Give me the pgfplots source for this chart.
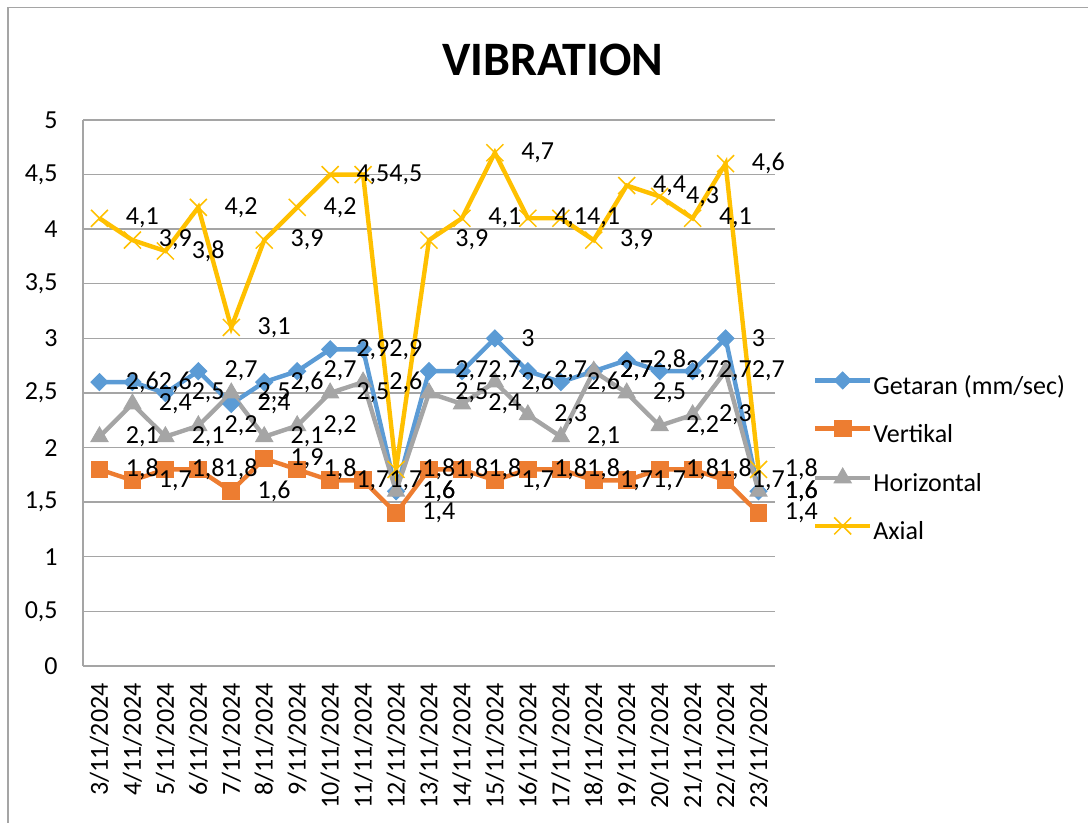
\documentclass[border=0pt]{standalone}
\usepackage{fontspec}
\setmainfont{Carlito}
\usepackage{pgfplots}
\usepackage{pgfplotstable}
\pgfplotsset{compat=1.18}
\definecolor{cBlue}{RGB}{91,155,213}
\definecolor{cOrange}{RGB}{237,125,49}
\definecolor{cGray}{RGB}{165,165,165}
\definecolor{cYellow}{RGB}{255,192,0}
\definecolor{cGrid}{RGB}{165,165,165}
\newcommand{\lbl}{\fontsize{13}{15.6}\selectfont}
\pgfplotstableread{
x g v h a
0 2.6 1.8 2.1 4.1
1 2.6 1.7 2.4 3.9
2 2.5 1.8 2.1 3.8
3 2.7 1.8 2.2 4.2
4 2.4 1.6 2.5 3.1
5 2.6 1.9 2.1 3.9
6 2.7 1.8 2.2 4.2
7 2.9 1.7 2.5 4.5
8 2.9 1.7 2.6 4.5
9 1.6 1.4 1.6 1.8
10 2.7 1.8 2.5 3.9
11 2.7 1.8 2.4 4.1
12 3.0 1.7 2.6 4.7
13 2.7 1.8 2.3 4.1
14 2.6 1.8 2.1 4.1
15 2.7 1.7 2.7 3.9
16 2.8 1.7 2.5 4.4
17 2.7 1.8 2.2 4.3
18 2.7 1.8 2.3 4.1
19 3.0 1.7 2.7 4.6
20 1.6 1.4 1.6 1.8
}\vib
\begin{document}
\begin{tikzpicture}[x=1pt,y=1pt]
\useasboundingbox (0,0) rectangle (544,411.5);
\draw[cGrid, line width=0.7pt] (4,-2) -- (4,407.7) -- (546,407.7);
\node[font=\fontsize{24}{28}\selectfont\bfseries] at (276.5,381.5) {VIBRATION};
\begin{axis}[
  at={(41.5pt,78.5pt)}, anchor=south west,
  scale only axis, width=346pt, height=273pt,
  xmin=-0.5, xmax=20.5, ymin=0, ymax=5,
  clip=false,
  axis x line*=bottom, axis y line*=left,
  axis line style={cGrid, line width=0.7pt, -},
  major tick length=0pt,
  ymajorgrids, major grid style={cGrid, line width=0.7pt},
  ytick={0,0.5,1,1.5,2,2.5,3,3.5,4,4.5,5},
  xtick={0,1,2,3,4,5,6,7,8,9,10,11,12,13,14,15,16,17,18,19,20},
  xticklabels={3/11/2024,4/11/2024,5/11/2024,6/11/2024,7/11/2024,8/11/2024,9/11/2024,10/11/2024,11/11/2024,12/11/2024,13/11/2024,14/11/2024,15/11/2024,16/11/2024,17/11/2024,18/11/2024,19/11/2024,20/11/2024,21/11/2024,22/11/2024,23/11/2024},
  /pgf/number format/.cd, use comma, 1000 sep={}, assume math mode=true, /pgfplots/.cd,
  ticklabel style={font=\lbl, text=black},
  xticklabel style={rotate=90, anchor=east, inner sep=0pt},
  xticklabel shift=8.5pt,
  yticklabel style={anchor=east, inner sep=0pt},
  yticklabel shift=12.5pt,
  every node near coord/.style={anchor=west, xshift=13pt, inner sep=0pt, font=\lbl, text=black},
  legend style={at={(1.0549,0.5385)}, anchor=north west, draw=none, fill=none, font=\lbl,
    inner sep=0pt, outer sep=0pt, row sep=9.8pt, column sep=0.5pt,
    nodes={inner sep=0pt, text height=10pt, text depth=3pt}},
  legend cell align=left,
  legend image code/.code={\draw[#1, mark repeat=2, mark phase=2] plot coordinates {(0pt,3.5pt) (13.75pt,3.5pt) (27.5pt,3.5pt)};},
]
\addplot[cBlue, line width=2.2pt, mark=square*, mark size=3pt, mark options={rotate=45, line width=0.5pt, fill=cBlue}] table[x=x, y=g] {\vib};
\addlegendentry{Getaran (mm/sec)}
\addplot[cOrange, line width=2.2pt, mark=square*, mark size=4.2pt, mark options={line width=0.5pt, fill=cOrange}] table[x=x, y=v] {\vib};
\addlegendentry{Vertikal}
\addplot[cGray, line width=2.2pt, mark=triangle*, mark size=4.9pt, mark options={line width=0.5pt, fill=cGray}] table[x=x, y=h] {\vib};
\addlegendentry{Horizontal}
\addplot[cYellow, line width=2.2pt, mark=x, mark size=6pt, mark options={line width=0.75pt}] table[x=x, y=a] {\vib};
\addlegendentry{Axial}
% data labels on top of all series
\addplot[draw=none, mark=none, nodes near coords, forget plot] table[x=x, y=g] {\vib};
\addplot[draw=none, mark=none, nodes near coords, forget plot] table[x=x, y=v] {\vib};
\addplot[draw=none, mark=none, nodes near coords, forget plot] table[x=x, y=h] {\vib};
\addplot[draw=none, mark=none, nodes near coords, forget plot] table[x=x, y=a] {\vib};
\end{axis}
\end{tikzpicture}
\end{document}
